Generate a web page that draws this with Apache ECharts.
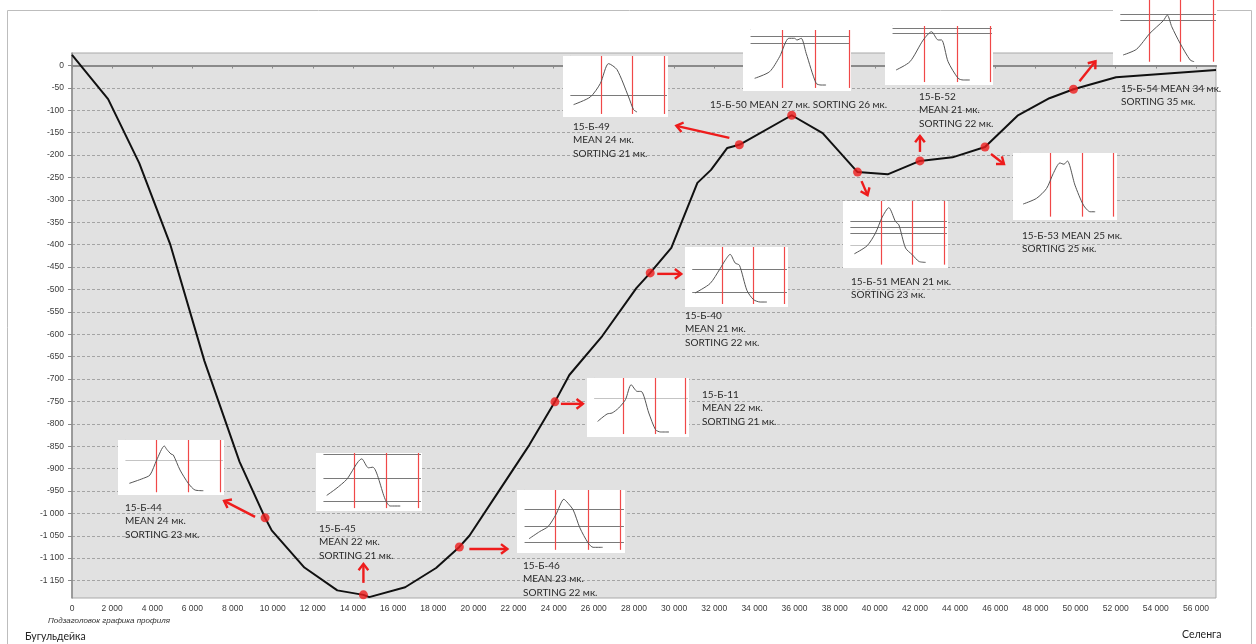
<!DOCTYPE html>
<html>
<head>
<meta charset="utf-8">
<script src="https://cdn.jsdelivr.net/npm/echarts@6/dist/echarts.min.js"></script>
<style>
html, body { margin: 0; padding: 0; background: #ffffff; }
#chart { width: 1256px; height: 644px; }
</style>
</head>
<body>
<div id="chart"></div>
<script>
// Bottom profile Бугульдейка – Селенга: distance along the profile (m) and depth (m)
const profileX = [0, 1800, 3350, 4900, 6600, 8350, 9620, 9950, 11580, 13220, 14520, 14810, 16600, 18140,
  19300, 19800, 21300, 22790, 24060, 24780, 26420, 28120, 28810, 29860, 31160, 31840, 32650, 33250,
  35860, 37400, 39140, 40640, 42250, 43870, 45490, 47110, 48700, 49900, 52020, 57000];
const profileDepth = [24, -75, -218, -400, -660, -885, -1010, -1038, -1121, -1172, -1182, -1187, -1165, -1122,
  -1075, -1050, -948, -847, -751, -691, -604, -497, -463, -407, -262, -233, -184, -177,
  -111, -151, -238, -243, -213, -205, -182, -112, -73, -53, -26, -10];

// Axis ticks
const xTicks = [0, 2000, 4000, 6000, 8000, 10000, 12000, 14000, 16000, 18000, 20000, 22000, 24000, 26000,
  28000, 30000, 32000, 34000, 36000, 38000, 40000, 42000, 44000, 46000, 48000, 50000, 52000, 54000, 56000];
const yTicks = [-1150, -1100, -1050, -1000, -950, -900, -850, -800, -750, -700, -650, -600, -550, -500,
  -450, -400, -350, -300, -250, -200, -150, -100, -50, 0];

// Samples on the profile
const sampleNames = ['15-Б-44', '15-Б-45', '15-Б-46', '15-Б-11', '15-Б-40', '15-Б-49', '15-Б-50', '15-Б-51', '15-Б-52', '15-Б-53', '15-Б-54'];
const sampleX = [9620, 14520, 19300, 24060, 28810, 33250, 35860, 39140, 42250, 45490, 49900];
const sampleDepth = [-1010, -1182, -1075, -751, -463, -177, -111, -238, -213, -182, -53];
const sampleMean = [24, 22, 23, 22, 21, 24, 27, 21, 21, 25, 34];
const sampleSorting = [23, 21, 22, 21, 22, 21, 26, 23, 22, 25, 35];

// Grain-size distribution curves of each sample (relative units, 0–100)
const curve44 = [[10.7, 21.2], [23.9, 30.3], [30.2, 36.4], [36.5, 63.6], [43.7, 89.1], [46, 83], [50, 74.5], [52.2, 72.7], [58.5, 45.5], [66.3, 21.2], [72.6, 9.1], [80.5, 7.8]];
const curve45 = [[10.1, 26.9], [18.9, 38.5], [29, 54.5], [43.2, 89.9], [49.4, 74.5], [53.6, 75.5], [65.3, 20], [70, 8.6], [79.5, 8.6]];
const curve46 = [[11.1, 22.6], [21.1, 34.1], [28.8, 42], [35.9, 60.5], [43.4, 85.3], [46.2, 81], [52, 68.4], [58.2, 40], [65.9, 15.8], [70.5, 9], [79.3, 9]];
const curve11 = [[10.4, 26.4], [19.7, 39], [24.6, 40.7], [31.1, 49.2], [37.7, 63.3], [43.3, 88.6], [49.2, 77.3], [53.1, 77.3], [60.6, 40.7], [67.2, 12.4], [72.2, 8.5], [80.4, 8.5]];
const curve40 = [[9.7, 23.3], [24.3, 39], [34.1, 64], [39, 77.8], [43.8, 87.8], [48.7, 73.3], [52.9, 69.5], [60.1, 27.8], [66.5, 12.3], [73, 8.3], [79.5, 8.3]];
const curve49 = [[10.1, 20.3], [26, 32.8], [35.5, 54.8], [43.4, 87.5], [51.4, 77.7], [62.5, 32.8], [67.2, 12.1], [70.5, 8.2]];
const curve50 = [[10.8, 20.8], [24.6, 31.6], [33.9, 56.2], [42.4, 86.4], [47.7, 86.4], [50, 83.6], [53.9, 86.4], [58.5, 61.8], [67.7, 12.6], [72.3, 9.8], [76.9, 9.8]];
const curve51 = [[10.8, 21.2], [22.9, 33.1], [30.9, 52], [37.3, 75.8], [43.6, 90.1], [50, 69.3], [53.2, 64.4], [59.6, 29.7], [66, 19.8], [72.3, 9.8], [78.7, 8.4]];
const curve52 = [[10.2, 25.4], [23.1, 39.5], [35.4, 76.3], [43.1, 90.3], [49.2, 76.3], [52.4, 76.3], [58.4, 39.5], [67.7, 11.4], [72.3, 8.5], [78.5, 8.5]];
const curve53 = [[9.7, 23.8], [22.6, 32.3], [32.3, 47.1], [38.7, 69.4], [45.1, 85.1], [49, 83.2], [52.2, 88.1], [59.6, 52], [67.7, 22.3], [74.2, 12.3], [79, 12.3]];
const curve54 = [[9.7, 15.4], [22.6, 24.2], [35.5, 48.8], [48.4, 68.2], [52.2, 76.9], [56.5, 58.9], [64.5, 33.4], [74.2, 7.7], [78, 5.1]];
const curves = [curve44, curve45, curve46, curve11, curve40, curve49, curve50, curve51, curve52, curve53, curve54];

// Fraction boundaries (vertical red lines) on each distribution
const bounds = [[36.5, 66.3, 96.9], [36, 66.2, 96.8], [35.7, 65.9, 95.4], [36, 66.5, 96.8], [35.7, 66.5, 96.7],
  [36.5, 66.3, 96.5], [36.3, 67.1, 98.4], [36.3, 66, 96.2], [36.3, 66.8, 97.6], [35.5, 66.7, 96.7], [34.8, 64.5, 96.1]];
// Horizontal reference levels on each distribution
const levelsDark = [[], [97, 57.2, 17.1], [70, 43.1, 16.7], [], [62.3, 25], [35.1], [89, 78.2], [70.3, 60.9, 52], [96.1, 87.6], [], [78.5, 69.2]];
const levelsLight = [[62.4], [], [], [66.1], [], [], [], [34.6], [], [], []];

// ---- layout (pixels) ----
const insetBox = [[118, 440, 106, 55], [316, 453, 106, 58], [517, 490, 108, 63], [587, 378, 102, 59], [685, 247, 103, 60],
  [563, 56, 105, 61], [743, 30, 108, 61], [843, 201, 105, 67], [885, 26, 108, 59], [1013, 153, 104, 67], [1113, 0, 104, 65]];
// caption position: [x, y of first line, lines mode]  3 = name / mean / sorting, 2 = name+mean / sorting, 1 = single line
const captionPos = [[125, 508, 3], [319, 529, 3], [523, 566, 3], [702, 395, 3], [685, 316, 3], [573, 127, 3],
  [710, 105, 1], [851, 282, 2], [919, 97, 3], [1022, 236, 2], [1121, 89, 2]];
// arrow from the sample point: [dx start, dy start, dx end, dy end]
const arrowOff = [[-10, -1, -41, -17], [0, -12, 0, -31], [10, 2, 48, 2], [6, 2, 28, 2], [7, 1, 31, 1],
  [-10, -7, -63, -19], null, [4, 9, 10, 23], [0, -9, 0, -25], [6, 7, 19, 17], [6, -8, 22, -28]];

const RED = '#ee1c1c';
const TEXT_FONT = 'Lato, "Open Sans", sans-serif';
const AXIS_FONT = '"Liberation Sans Narrow", "Liberation Sans", Arial, sans-serif';

const fmt = v => {
  const s = Math.abs(v).toString().replace(/\B(?=(\d{3})+(?!\d))/g, ' ');
  return (v < 0 ? '-' : '') + s;
};

const grids = [{
  left: 72, top: 53, width: 1144, height: 545,
  show: true, backgroundColor: '#e1e1e1', borderColor: '#a9a9a9', borderWidth: 1
}];
const xAxes = [{
  gridIndex: 0, type: 'value', min: 0, max: 57000,
  axisLine: { lineStyle: { color: '#8a8a8a', width: 2 } },
  axisTick: { customValues: xTicks, length: 3, lineStyle: { color: '#8a8a8a' } },
  axisLabel: { customValues: xTicks, formatter: fmt, fontSize: 8.5, color: '#3a3a3a', margin: 6, fontFamily: AXIS_FONT },
  splitLine: { show: false }
}];
const yAxes = [{
  gridIndex: 0, type: 'value', min: -1189, max: 28,
  axisLine: { show: true, lineStyle: { color: '#8a8a8a', width: 1.5 } },
  axisTick: { show: true, customValues: yTicks, length: 4, lineStyle: { color: '#8a8a8a' } },
  axisLabel: { customValues: yTicks, formatter: fmt, fontSize: 8.5, color: '#3a3a3a', margin: 8, fontFamily: AXIS_FONT },
  splitLine: { show: true, lineStyle: { color: '#a4a4a4', width: 1, type: [3, 2] } }
}];

const series = [{
  type: 'line', xAxisIndex: 0, yAxisIndex: 0,
  data: profileX.map((x, i) => [x, profileDepth[i]]),
  symbol: 'none', lineStyle: { color: '#111111', width: 2 }, z: 2, silent: true
}, {
  type: 'scatter', xAxisIndex: 0, yAxisIndex: 0,
  data: sampleX.map((x, i) => [x, sampleDepth[i]]),
  symbolSize: 9, itemStyle: { color: RED }, z: 4, silent: true
}];

insetBox.forEach((b, i) => {
  const [bx, by, bw, bh] = b;
  const gi = i + 1;
  grids.push({ left: bx + 0.07 * bw, top: by, width: 0.92 * bw, height: 0.95 * bh, show: false });
  xAxes.push({ gridIndex: gi, type: 'value', min: 7, max: 99, show: false });
  yAxes.push({
    gridIndex: gi, type: 'value', min: 5, max: 100,
    axisLine: { show: true, lineStyle: { color: '#d6d6d6', width: 1 } },
    axisTick: { show: false }, axisLabel: { show: false }, splitLine: { show: false }
  });
  const ml = [];
  levelsLight[i].forEach(v => ml.push({ yAxis: v, lineStyle: { color: '#c4c4c4', width: 1, type: 'solid' } }));
  levelsDark[i].forEach(v => ml.push({ yAxis: v, lineStyle: { color: '#7a7a7a', width: 1.2, type: 'solid' } }));
  bounds[i].forEach(v => ml.push({ xAxis: v, lineStyle: { color: '#f04848', width: 1.2, type: 'solid' } }));
  series.push({
    type: 'line', xAxisIndex: gi, yAxisIndex: gi,
    data: curves[i], symbol: 'none', z: 5, silent: true, smooth: 0.25,
    lineStyle: { color: '#555555', width: 1 },
    markLine: { silent: true, symbol: 'none', label: { show: false }, animation: false, data: ml, z: 5 }
  });
});

const chart = echarts.init(document.getElementById('chart'));
chart.setOption({ animation: false, grid: grids, xAxis: xAxes, yAxis: yAxes, series: series });

// Overlay: frame, inset backgrounds, captions, arrows, titles
const els = [];
els.push({ type: 'rect', shape: { x: 7.5, y: 10.5, width: 1244, height: 700 }, style: { fill: 'none', stroke: '#bdbdbd', lineWidth: 1 }, z: 1, silent: true });
insetBox.forEach(b => {
  els.push({ type: 'rect', shape: { x: b[0], y: b[1], width: b[2], height: b[3] }, style: { fill: '#ffffff' }, z: 3, silent: true });
});
sampleNames.forEach((name, i) => {
  const [cx, cy, mode] = captionPos[i];
  const mean = 'MEAN ' + sampleMean[i] + ' мк.';
  const sort = 'SORTING ' + sampleSorting[i] + ' мк.';
  let lines;
  if (mode === 3) lines = [name, mean, sort];
  else if (mode === 2) lines = [name + ' ' + mean, sort];
  else lines = [name + ' ' + mean + ' ' + sort];
  lines.forEach((t, k) => {
    els.push({
      type: 'text', x: cx, y: cy + k * 13.2, z: 6, silent: true,
      style: { text: t, fill: '#2a2a2a', font: '10px ' + TEXT_FONT, verticalAlign: 'middle', align: 'left' }
    });
  });
  const off = arrowOff[i];
  if (off) {
    const p = chart.convertToPixel({ xAxisIndex: 0, yAxisIndex: 0 }, [sampleX[i], sampleDepth[i]]);
    const sx = p[0] + off[0], sy = p[1] + off[1], ex = p[0] + off[2], ey = p[1] + off[3];
    const th = Math.atan2(ey - sy, ex - sx), L = 8, phi = 0.65;
    els.push({ type: 'line', shape: { x1: sx, y1: sy, x2: ex, y2: ey }, style: { stroke: RED, lineWidth: 2.4 }, z: 6, silent: true });
    els.push({
      type: 'polyline', z: 6, silent: true,
      shape: { points: [[ex - L * Math.cos(th - phi), ey - L * Math.sin(th - phi)], [ex, ey], [ex - L * Math.cos(th + phi), ey - L * Math.sin(th + phi)]] },
      style: { stroke: RED, lineWidth: 2.4, fill: 'none' }
    });
  }
});
els.push({ type: 'text', x: 48, y: 621, z: 6, silent: true, style: { text: 'Подзаголовок графика профиля', fill: '#333', font: 'italic 8px ' + AXIS_FONT, verticalAlign: 'middle' } });
els.push({ type: 'text', x: 25, y: 637, z: 6, silent: true, style: { text: 'Бугульдейка', fill: '#222', font: '10.5px ' + TEXT_FONT, verticalAlign: 'middle' } });
els.push({ type: 'text', x: 1182, y: 635, z: 6, silent: true, style: { text: 'Селенга', fill: '#222', font: '10.5px ' + TEXT_FONT, verticalAlign: 'middle' } });
chart.setOption({ graphic: { elements: els } });
</script>
</body>
</html>
